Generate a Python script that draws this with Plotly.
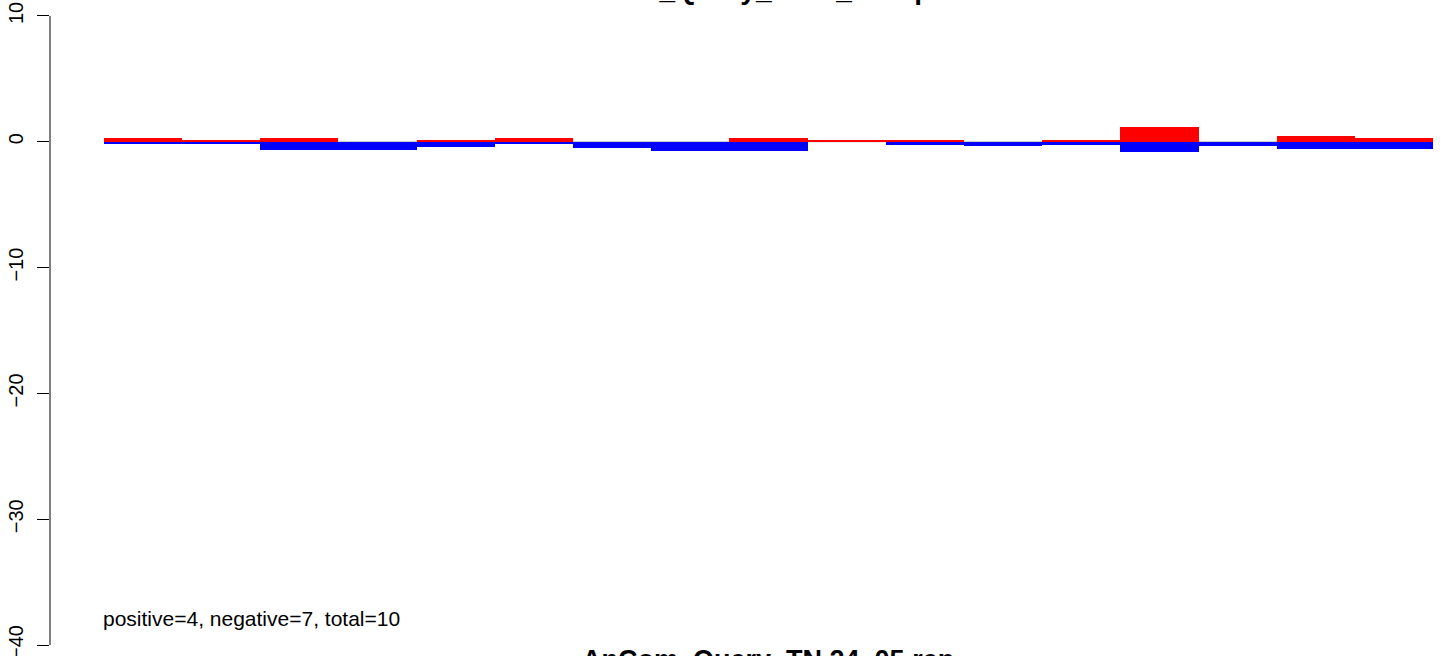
import plotly.graph_objects as go

# Data
positions = list(range(17))
pos_values = [0.32, 0.10, 0.32, 0.0, 0.10, 0.32, 0.0, 0.0, 0.32, 0.12, 0.08, 0.0, 0.10, 1.20, 0.0, 0.48, 0.32]
neg_values = [-0.16, -0.16, -0.63, -0.63, -0.40, -0.16, -0.48, -0.71, -0.71, 0.0, -0.24, -0.32, -0.28, -0.80, -0.30, -0.55, -0.55]
y_ticks = [10, 0, -10, -20, -30, -40]
title_text = "Con_Query_Time_Comp"
xlabel_text = "AnCom_Query_TN 24_05.rep"
summary_text = "positive=4, negative=7, total=10"

FONT = "Liberation Sans, Arial, sans-serif"

fig = go.Figure()
# faint zero line across the bar block
fig.add_shape(type="line", xref="x", yref="y", x0=positions[0] - 0.5, x1=positions[-1] + 0.5, y0=0, y1=0,
              line=dict(color="#bebebe", width=1), layer="below")
fig.add_trace(go.Bar(x=positions, y=pos_values, width=1, marker=dict(color="#ff0000", line=dict(width=0)),
                     showlegend=False, hoverinfo="skip"))
fig.add_trace(go.Bar(x=positions, y=neg_values, width=1, marker=dict(color="#0000ff", line=dict(width=0)),
                     showlegend=False, hoverinfo="skip"))

# axis line spanning only the tick range
fig.add_shape(type="line", xref="paper", yref="y", x0=0, x1=0, y0=min(y_ticks), y1=max(y_ticks),
              line=dict(color="black", width=1))

fig.add_annotation(text=summary_text, xref="x", yref="y", x=positions[0] - 0.5, y=-37.85, xanchor="left",
                   yanchor="middle", xshift=-3, showarrow=False, font=dict(family=FONT, size=21, color="black"))
fig.add_annotation(text="<b>" + title_text + "</b>", xref="paper", yref="paper", x=0.515, y=1,
                   xanchor="center", yanchor="middle", yshift=11, showarrow=False,
                   font=dict(family=FONT, size=28, color="black"))
fig.add_annotation(text="<b>" + xlabel_text + "</b>", xref="paper", yref="paper", x=0.515, y=0,
                   xanchor="center", yanchor="middle", yshift=-4, showarrow=False,
                   font=dict(family=FONT, size=27, color="black"))

fig.update_layout(
    width=1444, height=656,
    margin=dict(l=50, r=0, t=0, b=0, autoexpand=False),
    paper_bgcolor="white", plot_bgcolor="white",
    barmode="overlay", bargap=0,
    xaxis=dict(range=[-1.19, 16.64], visible=False, automargin=False),
    yaxis=dict(range=[-40.87, 11.27], tickvals=y_ticks, ticktext=[str(v) if v >= 0 else "\u2212" + str(-v) for v in y_ticks],
               ticks="outside", ticklen=12, tickcolor="black", tickwidth=1, showgrid=False, zeroline=False,
               showline=False, tickangle=-90, automargin=False, ticklabelstandoff=6, ticklabeloverflow="allow",
               tickfont=dict(family=FONT, size=20, color="black")),
    font=dict(family=FONT),
)
fig.write_html("out.html", config={"displayModeBar": False},
               post_script="document.body.style.margin='0px';document.body.style.overflow='hidden';")
